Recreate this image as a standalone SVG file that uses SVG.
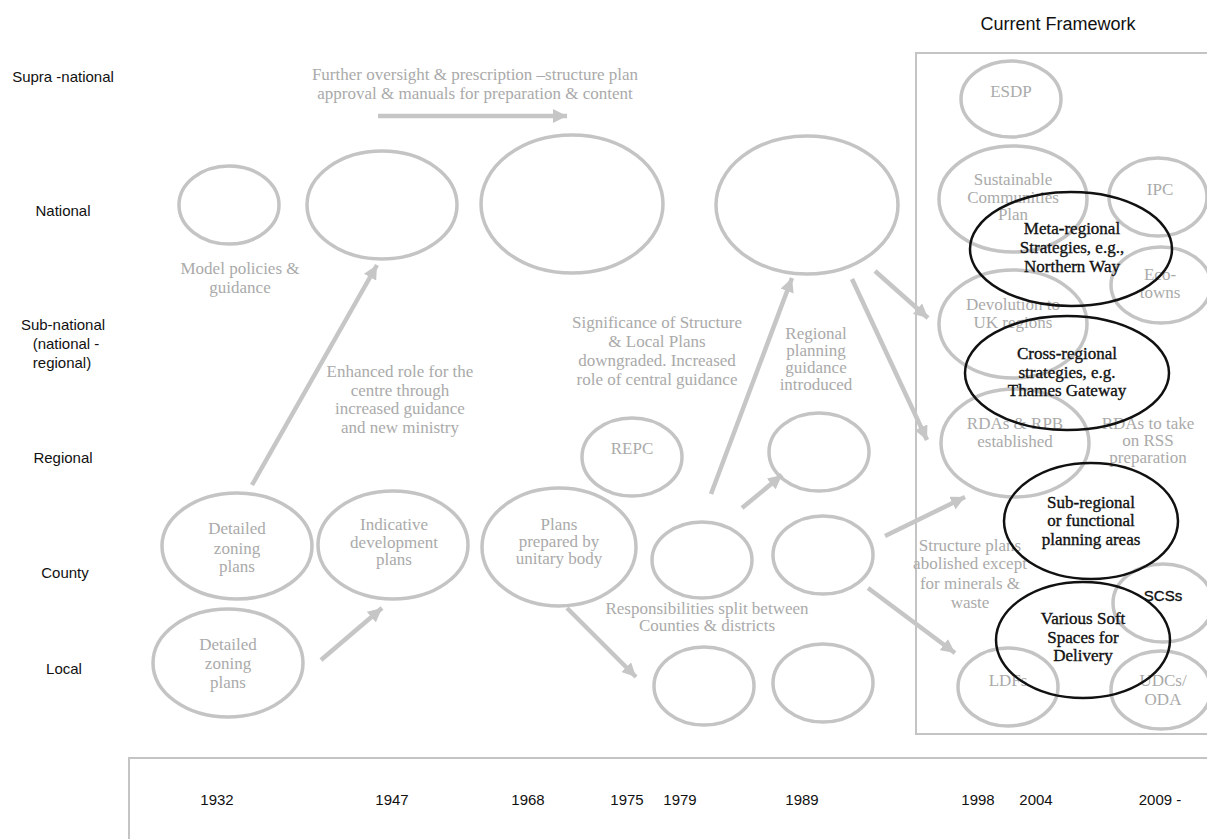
<svg xmlns="http://www.w3.org/2000/svg" width="1207" height="839" viewBox="0 0 1207 839">
<style>
  .lbl{font-family:"Liberation Sans",Arial,sans-serif;font-size:15px;fill:#111;text-anchor:middle}
  .yr{font-family:"Liberation Sans",Arial,sans-serif;font-size:15px;fill:#111;text-anchor:middle}
  .g{font-family:"Liberation Serif","Times New Roman",serif;font-size:17px;fill:#aaaaaa;text-anchor:middle}
  .b{font-family:"Liberation Serif","Times New Roman",serif;font-size:17px;fill:#111;stroke:#111;stroke-width:0.35;text-anchor:middle}
  .ge{fill:none;stroke:#c4c4c4;stroke-width:3.5}
  .be{fill:none;stroke:#111;stroke-width:2.5}
  .arr{fill:none;stroke:#c6c6c6;stroke-width:4.5;marker-end:url(#ah)}
  .box{fill:none;stroke:#c4c4c4;stroke-width:2}
</style>
<defs>
  <marker id="ah" markerUnits="userSpaceOnUse" markerWidth="16" markerHeight="14" refX="14" refY="7" orient="auto">
    <path d="M0,0 L14,7 L0,14 z" fill="#c6c6c6"/>
  </marker>
</defs>
<rect width="1207" height="839" fill="#fff"/>

<g id="level-labels">
  <text class="lbl" x="63" y="82">Supra -national</text>
  <text class="lbl" x="63" y="216">National</text>
  <text class="lbl" x="63" y="330">Sub-national</text>
  <text class="lbl" x="66" y="349">(national  -</text>
  <text class="lbl" x="62" y="368">regional)</text>
  <text class="lbl" x="63" y="463">Regional</text>
  <text class="lbl" x="65" y="578">County</text>
  <text class="lbl" x="64" y="674">Local</text>
</g>

<g id="timeline">
  <path class="box" d="M1210,758 H129 V845"/>
  <text class="yr" x="217" y="805">1932</text>
  <text class="yr" x="392" y="805">1947</text>
  <text class="yr" x="528" y="805">1968</text>
  <text class="yr" x="627" y="805">1975</text>
  <text class="yr" x="680" y="805">1979</text>
  <text class="yr" x="802" y="805">1989</text>
  <text class="yr" x="978" y="805">1998</text>
  <text class="yr" x="1036" y="805">2004</text>
  <text class="yr" x="1160" y="805">2009  -</text>
</g>

<g id="current-framework">
  <text class="lbl" x="1058" y="30" style="font-size:18px">Current Framework</text>
  <path class="box" d="M1210,53 H916 V734 H1210"/>
</g>

<g id="connectors">
  <line class="arr" x1="378" y1="116" x2="567" y2="116"/>
  <line class="arr" x1="252" y1="485" x2="377" y2="265"/>
  <line class="arr" x1="321" y1="660" x2="382" y2="608"/>
  <line class="arr" x1="567" y1="608" x2="636" y2="677"/>
  <line class="arr" x1="711" y1="494" x2="792" y2="278"/>
  <line class="arr" x1="742" y1="508" x2="782" y2="475"/>
  <line class="arr" x1="852" y1="279" x2="927" y2="440"/>
  <line class="arr" x1="875" y1="271" x2="928" y2="318"/>
  <line class="arr" x1="885" y1="536" x2="965" y2="497"/>
  <line class="arr" x1="868" y1="588" x2="955" y2="653"/>
</g>

<g id="note-oversight">
  <text class="g" x="475" y="80">Further oversight &amp; prescription –structure plan</text>
  <text class="g" x="475" y="99">approval &amp; manuals for preparation &amp; content</text>
</g>
<g id="note-model">
  <text class="g" x="240" y="274">Model policies &amp;</text>
  <text class="g" x="240" y="293">guidance</text>
</g>
<g id="note-enhanced">
  <text class="g" x="400" y="377">Enhanced role for the</text>
  <text class="g" x="400" y="396">centre through</text>
  <text class="g" x="400" y="414">increased guidance</text>
  <text class="g" x="400" y="433">and new ministry</text>
</g>
<g id="note-significance">
  <text class="g" x="657" y="328">Significance of Structure</text>
  <text class="g" x="657" y="347">&amp; Local Plans</text>
  <text class="g" x="657" y="366">downgraded. Increased</text>
  <text class="g" x="657" y="385">role of central guidance</text>
</g>
<g id="note-rpg">
  <text class="g" x="816" y="339">Regional</text>
  <text class="g" x="816" y="356">planning</text>
  <text class="g" x="816" y="373">guidance</text>
  <text class="g" x="816" y="390">introduced</text>
</g>
<g id="note-split">
  <text class="g" x="707" y="614">Responsibilities split between</text>
  <text class="g" x="707" y="631">Counties &amp; districts</text>
</g>
<g id="note-structure-abolished">
  <text class="g" x="970" y="551">Structure plans</text>
  <text class="g" x="970" y="569">abolished except</text>
  <text class="g" x="970" y="589">for minerals &amp;</text>
  <text class="g" x="970" y="608">waste</text>
</g>
<g id="note-rdas-rss">
  <text class="g" x="1148" y="429">RDAs to take</text>
  <text class="g" x="1148" y="446">on RSS</text>
  <text class="g" x="1148" y="463">preparation</text>
</g>

<g id="n-national-1932"><ellipse class="ge" cx="229" cy="205" rx="50" ry="39"/></g>
<g id="n-national-1947"><ellipse class="ge" cx="382" cy="205" rx="75" ry="54"/></g>
<g id="n-national-1968"><ellipse class="ge" cx="572" cy="204" rx="91" ry="69"/></g>
<g id="n-national-1989"><ellipse class="ge" cx="807" cy="205" rx="91" ry="69"/></g>

<g id="n-county-1932">
  <ellipse class="ge" cx="237" cy="546" rx="75" ry="53"/>
  <text class="g" x="237" y="534">Detailed</text>
  <text class="g" x="237" y="554">zoning</text>
  <text class="g" x="237" y="572">plans</text>
</g>
<g id="n-county-1947">
  <ellipse class="ge" cx="393" cy="545" rx="75" ry="54"/>
  <text class="g" x="394" y="530">Indicative</text>
  <text class="g" x="394" y="548">development</text>
  <text class="g" x="394" y="565">plans</text>
</g>
<g id="n-county-1968">
  <ellipse class="ge" cx="559" cy="547" rx="77" ry="59"/>
  <text class="g" x="559" y="530">Plans</text>
  <text class="g" x="559" y="547">prepared by</text>
  <text class="g" x="559" y="564">unitary body</text>
</g>
<g id="n-local-1932">
  <ellipse class="ge" cx="228" cy="663" rx="75" ry="54"/>
  <text class="g" x="228" y="650">Detailed</text>
  <text class="g" x="228" y="669">zoning</text>
  <text class="g" x="228" y="688">plans</text>
</g>
<g id="n-repc">
  <ellipse class="ge" cx="632" cy="457" rx="50" ry="39"/>
  <text class="g" x="632" y="454">REPC</text>
</g>
<g id="n-regional-1989"><ellipse class="ge" cx="819" cy="452" rx="50" ry="39"/></g>
<g id="n-county-1979"><ellipse class="ge" cx="702" cy="560" rx="50" ry="38"/></g>
<g id="n-county-1989"><ellipse class="ge" cx="823" cy="555" rx="50" ry="39"/></g>
<g id="n-local-1979"><ellipse class="ge" cx="704" cy="686" rx="50" ry="39"/></g>
<g id="n-local-1989"><ellipse class="ge" cx="823" cy="683" rx="50" ry="39"/></g>

<g id="n-esdp">
  <ellipse class="ge" cx="1011" cy="99" rx="50" ry="38"/>
  <text class="g" x="1011" y="97">ESDP</text>
</g>
<g id="n-scp">
  <ellipse class="ge" cx="1013" cy="199" rx="74" ry="53"/>
  <text class="g" x="1013" y="185">Sustainable</text>
  <text class="g" x="1013" y="203">Communities</text>
  <text class="g" x="1013" y="220">Plan</text>
</g>
<g id="n-ipc">
  <ellipse class="ge" cx="1158" cy="197" rx="49" ry="39"/>
  <text class="g" x="1160" y="195">IPC</text>
</g>
<g id="n-ecotowns">
  <ellipse class="ge" cx="1161" cy="285" rx="50" ry="38"/>
  <text class="g" x="1160" y="280">Eco-</text>
  <text class="g" x="1160" y="298">towns</text>
</g>
<g id="n-devolution">
  <ellipse class="ge" cx="1013" cy="324" rx="74" ry="54"/>
  <text class="g" x="1013" y="310">Devolution to</text>
  <text class="g" x="1013" y="328">UK regions</text>
</g>
<g id="n-rdas">
  <ellipse class="ge" cx="1015" cy="443" rx="74" ry="54"/>
  <text class="g" x="1015" y="429">RDAs &amp; RPB</text>
  <text class="g" x="1015" y="447">established</text>
</g>
<g id="n-scss">
  <ellipse class="ge" cx="1163" cy="603" rx="50" ry="39"/>
  <text class="b" x="1163" y="601" style="font-family:'Liberation Sans',Arial,sans-serif;font-size:15px">SCSs</text>
</g>
<g id="n-ldfs">
  <ellipse class="ge" cx="1008" cy="687" rx="50" ry="39"/>
  <text class="g" x="1008" y="686">LDFs</text>
</g>
<g id="n-udcs">
  <ellipse class="ge" cx="1161" cy="690" rx="50" ry="39"/>
  <text class="g" x="1163" y="686">UDCs/</text>
  <text class="g" x="1163" y="705">ODA</text>
</g>

<g id="n-meta-regional">
  <ellipse class="be" cx="1071" cy="249" rx="101" ry="57"/>
  <text class="b" x="1072" y="234">Meta-regional</text>
  <text class="b" x="1072" y="253">Strategies, e.g.,</text>
  <text class="b" x="1072" y="272">Northern Way</text>
</g>
<g id="n-cross-regional">
  <ellipse class="be" cx="1067" cy="373" rx="102" ry="57"/>
  <text class="b" x="1067" y="359">Cross-regional</text>
  <text class="b" x="1067" y="378">strategies, e.g.</text>
  <text class="b" x="1067" y="396">Thames Gateway</text>
</g>
<g id="n-sub-regional">
  <ellipse class="be" cx="1091" cy="521" rx="87" ry="58"/>
  <text class="b" x="1091" y="508">Sub-regional</text>
  <text class="b" x="1091" y="526">or functional</text>
  <text class="b" x="1091" y="545">planning areas</text>
</g>
<g id="n-soft-spaces">
  <ellipse class="be" cx="1083" cy="640" rx="87" ry="58"/>
  <text class="b" x="1083" y="624">Various Soft</text>
  <text class="b" x="1083" y="643">Spaces for</text>
  <text class="b" x="1083" y="661">Delivery</text>
</g>
</svg>
